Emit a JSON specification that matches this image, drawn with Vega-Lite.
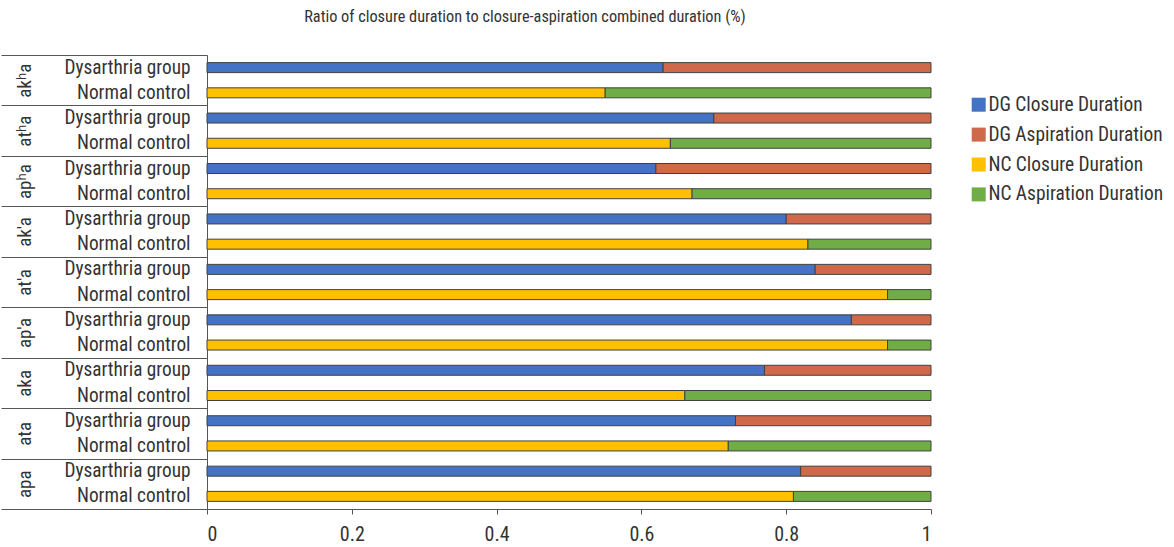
{
  "$schema": "https://vega.github.io/schema/vega-lite/v6.json",
  "width": 724,
  "height": 454,
  "padding": {"left": 0, "top": 9, "right": 5, "bottom": 5},
  "config": {
    "font": "Roboto Condensed, Liberation Sans Narrow, Roboto, sans-serif",
    "view": {"stroke": null}
  },
  "title": {
    "text": "Ratio of closure duration to closure-aspiration combined duration (%)",
    "fontSize": 16.3,
    "fontWeight": "normal",
    "color": "#333333",
    "offset": 29,
    "dx": -44
  },
  "data": {
    "values": [
      {"g": "akʰa", "row": "akʰa|Dysarthria group", "series": "DG Closure Duration", "o": 1, "v": 0.63},
      {"g": "akʰa", "row": "akʰa|Dysarthria group", "series": "DG Aspiration Duration", "o": 2, "v": 0.37},
      {"g": "akʰa", "row": "akʰa|Normal control", "series": "NC Closure Duration", "o": 1, "v": 0.55},
      {"g": "akʰa", "row": "akʰa|Normal control", "series": "NC Aspiration Duration", "o": 2, "v": 0.45},
      {"g": "atʰa", "row": "atʰa|Dysarthria group", "series": "DG Closure Duration", "o": 1, "v": 0.70},
      {"g": "atʰa", "row": "atʰa|Dysarthria group", "series": "DG Aspiration Duration", "o": 2, "v": 0.30},
      {"g": "atʰa", "row": "atʰa|Normal control", "series": "NC Closure Duration", "o": 1, "v": 0.64},
      {"g": "atʰa", "row": "atʰa|Normal control", "series": "NC Aspiration Duration", "o": 2, "v": 0.36},
      {"g": "apʰa", "row": "apʰa|Dysarthria group", "series": "DG Closure Duration", "o": 1, "v": 0.62},
      {"g": "apʰa", "row": "apʰa|Dysarthria group", "series": "DG Aspiration Duration", "o": 2, "v": 0.38},
      {"g": "apʰa", "row": "apʰa|Normal control", "series": "NC Closure Duration", "o": 1, "v": 0.67},
      {"g": "apʰa", "row": "apʰa|Normal control", "series": "NC Aspiration Duration", "o": 2, "v": 0.33},
      {"g": "ak'a", "row": "ak'a|Dysarthria group", "series": "DG Closure Duration", "o": 1, "v": 0.80},
      {"g": "ak'a", "row": "ak'a|Dysarthria group", "series": "DG Aspiration Duration", "o": 2, "v": 0.20},
      {"g": "ak'a", "row": "ak'a|Normal control", "series": "NC Closure Duration", "o": 1, "v": 0.83},
      {"g": "ak'a", "row": "ak'a|Normal control", "series": "NC Aspiration Duration", "o": 2, "v": 0.17},
      {"g": "at'a", "row": "at'a|Dysarthria group", "series": "DG Closure Duration", "o": 1, "v": 0.84},
      {"g": "at'a", "row": "at'a|Dysarthria group", "series": "DG Aspiration Duration", "o": 2, "v": 0.16},
      {"g": "at'a", "row": "at'a|Normal control", "series": "NC Closure Duration", "o": 1, "v": 0.94},
      {"g": "at'a", "row": "at'a|Normal control", "series": "NC Aspiration Duration", "o": 2, "v": 0.06},
      {"g": "ap'a", "row": "ap'a|Dysarthria group", "series": "DG Closure Duration", "o": 1, "v": 0.89},
      {"g": "ap'a", "row": "ap'a|Dysarthria group", "series": "DG Aspiration Duration", "o": 2, "v": 0.11},
      {"g": "ap'a", "row": "ap'a|Normal control", "series": "NC Closure Duration", "o": 1, "v": 0.94},
      {"g": "ap'a", "row": "ap'a|Normal control", "series": "NC Aspiration Duration", "o": 2, "v": 0.06},
      {"g": "aka", "row": "aka|Dysarthria group", "series": "DG Closure Duration", "o": 1, "v": 0.77},
      {"g": "aka", "row": "aka|Dysarthria group", "series": "DG Aspiration Duration", "o": 2, "v": 0.23},
      {"g": "aka", "row": "aka|Normal control", "series": "NC Closure Duration", "o": 1, "v": 0.66},
      {"g": "aka", "row": "aka|Normal control", "series": "NC Aspiration Duration", "o": 2, "v": 0.34},
      {"g": "ata", "row": "ata|Dysarthria group", "series": "DG Closure Duration", "o": 1, "v": 0.73},
      {"g": "ata", "row": "ata|Dysarthria group", "series": "DG Aspiration Duration", "o": 2, "v": 0.27},
      {"g": "ata", "row": "ata|Normal control", "series": "NC Closure Duration", "o": 1, "v": 0.72},
      {"g": "ata", "row": "ata|Normal control", "series": "NC Aspiration Duration", "o": 2, "v": 0.28},
      {"g": "apa", "row": "apa|Dysarthria group", "series": "DG Closure Duration", "o": 1, "v": 0.82},
      {"g": "apa", "row": "apa|Dysarthria group", "series": "DG Aspiration Duration", "o": 2, "v": 0.18},
      {"g": "apa", "row": "apa|Normal control", "series": "NC Closure Duration", "o": 1, "v": 0.81},
      {"g": "apa", "row": "apa|Normal control", "series": "NC Aspiration Duration", "o": 2, "v": 0.19}
    ]
  },
  "layer": [
    {
      "mark": {"type": "bar", "size": 10, "stroke": "#404040", "strokeWidth": 1},
      "encoding": {
        "y": {
          "field": "row",
          "type": "nominal",
          "sort": null,
          "scale": {"paddingInner": 0, "paddingOuter": 0},
          "axis": {
            "orient": "left",
            "title": null,
            "labelExpr": "split(datum.label, '|')[1]",
            "ticks": false,
            "domain": true,
            "domainWidth": 1,
            "labelPadding": 17,
            "labelFontSize": 19.3,
            "labelColor": "#333333",
            "domainColor": "#555555",
            "labelLimit": 300
          }
        },
        "x": {
          "field": "v",
          "type": "quantitative",
          "stack": "zero",
          "scale": {"domain": [0, 1]},
          "axis": {
            "title": null,
            "values": [0, 0.2, 0.4, 0.6, 0.8, 1],
            "format": "~g",
            "grid": false,
            "domain": true,
            "ticks": true,
            "labelFontSize": 20,
            "labelPadding": 10,
            "tickSize": 5,
            "domainColor": "#555555",
            "tickColor": "#555555",
            "labelColor": "#333333"
          }
        },
        "color": {
          "field": "series",
          "type": "nominal",
          "scale": {
            "domain": ["DG Closure Duration", "DG Aspiration Duration", "NC Closure Duration", "NC Aspiration Duration"],
            "range": ["#4472C4", "#D0694A", "#FFC000", "#70AD47"]
          },
          "legend": {
            "title": null,
            "orient": "none",
            "legendX": 762,
            "legendY": 40,
            "symbolType": "square",
            "symbolSize": 196,
            "symbolStrokeColor": "#333333",
            "symbolStrokeWidth": 1,
            "labelFontSize": 19.4,
            "labelColor": "#333333",
            "rowPadding": 8.9,
            "labelOffset": 0,
            "labelLimit": 300,
            "encode": {
              "symbols": {
                "update": {
                  "fill": {"signal": "datum.value === 'DG Closure Duration' ? '#0070C0' : scale('color', datum.value)"}
                }
              }
            }
          }
        },
        "order": {"field": "o"}
      }
    },
    {
      "mark": {"type": "tick", "opacity": 0},
      "encoding": {
        "y": {
          "field": "g",
          "type": "nominal",
          "sort": null,
          "scale": {"paddingInner": 0, "paddingOuter": 0},
          "axis": {
            "orient": "left",
            "title": null,
            "domain": false,
            "tickBand": "extent",
            "tickSize": 206,
            "tickColor": "#555555",
            "labelAngle": -90,
            "labelAlign": "center",
            "labelBaseline": "middle",
            "labelPadding": -23,
            "labelFontSize": 19,
            "labelColor": "#333333"
          }
        }
      }
    }
  ],
  "resolve": {"scale": {"y": "independent"}}
}
